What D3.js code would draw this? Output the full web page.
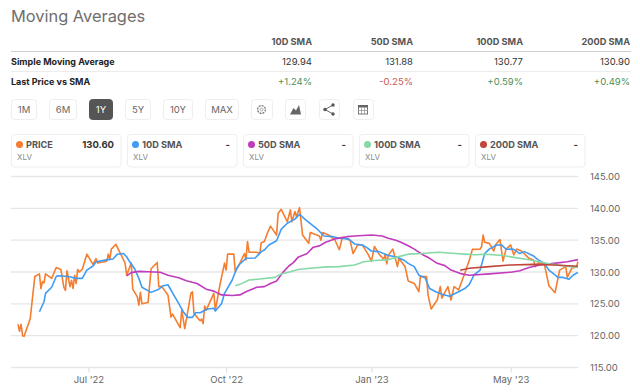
<!DOCTYPE html>
<html>
<head>
<meta charset="utf-8">
<script src="https://cdn.jsdelivr.net/npm/d3@7"></script>
<style>
  html, body { margin: 0; padding: 0; background: #fff; }
  svg { display: block; }
  text { font-family: Inter, "Liberation Sans", sans-serif; }
</style>
</head>
<body>
<div id="chart"></div>
<script>
// table at the top
var smaNames = ["10D SMA", "50D SMA", "100D SMA", "200D SMA"];
var smaValues = ["129.94", "131.88", "130.77", "130.90"];
var smaDiffs = ["+1.24%", "-0.25%", "+0.59%", "+0.49%"];

// range buttons and legend cards
var rangeLabels = ["1M", "6M", "1Y", "5Y", "10Y", "MAX"];
var legendNames = ["PRICE", "10D SMA", "50D SMA", "100D SMA", "200D SMA"];
var legendValues = ["130.60", "-", "-", "-", "-"];
var legendColors = ["#f47d30", "#3f9bf4", "#c13bbd", "#86d8a6", "#c0473a"];

// axis ticks
var yTicks = [115, 120, 125, 130, 135, 140, 145];
var xTickDays = [46, 136, 231, 322];
var xTickLabels = ["Jul '22", "Oct '22", "Jan '23", "May '23"];

// series, day offset from the start of the 1Y window + value
var priceDays = [0,1,2,3,4,8,11,14,15,16,17,18,22,25,28,30,31,32,34,35,36,37,38,39,40,42,45,49,51,52,58,59,60,61,64,70,71,74,75,78,79,80,81,85,87,91,92,94,98,100,101,106,107,109,113,114,115,119,120,121,122,123,128,129,132,135,136,137,141,142,145,148,149,150,151,156,158,159,161,163,165,169,170,172,176,178,179,181,182,184,186,190,191,197,198,199,203,207,210,212,217,219,222,225,229,231,233,236,239,240,241,242,245,248,249,253,255,259,262,263,267,268,270,274,276,277,281,283,285,288,290,292,295,297,302,303,304,305,308,311,312,315,317,319,322,324,326,329,334,337,338,340,344,347,351,354,358,359,362,365,366];
var priceValues = [121.8,120.7,121.8,120.0,119.9,122.7,129.3,129.7,127.4,128.5,128.3,129.7,129.0,130.7,130.4,127.6,127.1,130.2,127.7,128.7,127.4,129.5,128.2,130.4,130.0,130.4,132.8,131.2,132.1,131.4,131.7,132.8,132.0,133.6,134.35,131.4,129.5,131.4,127.3,126.1,124.8,126.8,125.0,125.2,130.5,131.5,127.7,127.7,126.4,122.9,123.4,121.25,124.0,121.1,126.65,126.9,123.5,122.35,122.6,121.9,124.65,124.0,126.65,124.0,128.0,131.4,130.3,132.8,132.8,130.05,131.4,132.9,131.9,134.8,133.1,133.1,132.9,134.6,134.8,136.1,137.2,135.8,139.2,139.85,137.9,139.75,137.9,139.5,138.7,140.1,135.8,134.5,136.2,135.66,135.0,136.2,135.8,135.1,133.5,135.45,135.0,132.9,134.25,134.25,132.7,131.7,134.0,132.8,132.0,132.8,131.26,132.6,133.6,130.84,132.15,130.84,128.6,128.2,126.9,129.3,129.3,126.4,124.2,125.6,127.7,125.9,127.7,125.6,127.7,127.2,128.5,129.8,131.9,133.56,133.6,134.0,135.8,134.67,134.5,133.3,134.25,135.1,131.7,133.6,134.25,132.7,133.6,133.3,132.15,131.9,130.84,131.47,131.2,127.85,126.75,130.3,130.84,129.16,130.6,130.84,131.6];

var sma10Days = [14,17,18,22,25,26,33,38,42,45,49,51,58,62,65,69,71,73,76,79,81,87,92,95,98,103,106,108,111,114,116,119,124,128,129,133,135,140,143,145,149,155,159,161,164,169,172,176,181,184,188,195,200,206,210,216,220,225,228,231,236,242,247,252,255,259,262,266,269,273,277,282,288,292,295,298,302,305,308,313,316,319,324,328,331,337,340,344,347,353,356,360,363,366];
var sma10Values = [123.76,125.33,126.65,127.6,129.3,129.4,129.3,129.0,129.0,130.3,130.94,131.6,131.9,132.04,132.8,132.9,132.4,131.6,130.6,129.0,127.6,126.8,127.3,127.85,128.0,125.9,124.65,123.76,122.87,122.87,123.6,123.6,124.2,124.3,123.87,125.0,126.65,128.74,130.6,131.26,132.15,132.2,133.2,133.46,134.25,134.9,136.7,137.65,138.3,139.07,138.18,136.87,135.66,135.55,135.3,135.2,134.4,134.25,133.83,133.3,133.2,132.6,132.4,131.9,131.36,130.84,129.5,129.1,127.4,126.9,126.5,126.2,126.9,127.4,128.06,129.53,130.3,132.9,133.6,134.25,134.25,133.6,133.56,132.9,133.2,132.5,131.9,131.36,130.3,129.16,129.16,128.85,129.53,129.95];

var sma50Days = [71,74,79,85,93,98,105,110,117,123,128,133,140,145,149,156,161,165,169,173,177,180,183,189,193,197,201,207,215,220,231,238,242,247,251,256,259,264,269,274,279,283,290,295,308,323,328,334,341,350,359,366];
var sma50Values = [129.4,129.9,130.1,130.05,129.95,129.5,129.1,128.64,128.2,127.3,127.0,126.4,126.3,126.4,126.9,127.6,127.7,128.2,128.6,129.9,130.94,131.47,132.3,132.9,133.9,134.1,134.67,135.2,135.55,135.66,135.8,135.66,135.3,135.0,134.6,134.0,133.6,132.8,132.15,131.36,131.0,130.3,129.7,129.5,129.7,130.0,130.2,130.7,131.1,131.36,131.6,131.94];

var sma100Days = [142,145,151,158,168,172,178,183,191,202,210,220,226,233,241,247,255,264,275,286,292,299,306,317,324,332,339,348,356,366];
var sma100Values = [127.85,128.06,128.74,128.9,129.16,129.7,130.05,130.4,130.6,130.8,130.84,131.1,131.6,131.8,131.9,132.3,132.8,132.9,133.1,132.9,132.8,132.7,132.8,132.6,132.3,132.0,131.7,131.26,131.0,130.73];

var sma200Days = [289,295,308,322,337,350,366];
var sma200Values = [130.26,130.6,130.84,131.1,131.2,131.1,130.9];

var seriesList = [
  {days: priceDays, values: priceValues, color: legendColors[0]},
  {days: sma10Days, values: sma10Values, color: legendColors[1]},
  {days: sma50Days, values: sma50Values, color: legendColors[2]},
  {days: sma100Days, values: sma100Values, color: legendColors[3]},
  {days: sma200Days, values: sma200Values, color: legendColors[4]}
];

var width = 640, height = 392;
var svg = d3.select("#chart").append("svg").attr("width", width).attr("height", height);

// title
svg.append("text").attr("x", 11).attr("y", 22).text("Moving Averages")
  .style("font-size", "16.4px").style("fill", "#6e6e6e");

// table
var colRight = [312, 413, 523, 630];
svg.append("text").attr("x", 11).attr("y", 65).text("Simple Moving Average")
  .style("font-size", "9px").style("font-weight", 700).style("fill", "#222");
svg.append("text").attr("x", 11).attr("y", 85).text("Last Price vs SMA")
  .style("font-size", "9px").style("font-weight", 700).style("fill", "#222");
svg.append("line").attr("x1", 11).attr("x2", 631).attr("y1", 51.5).attr("y2", 51.5)
  .style("stroke", "#cfcfcf").style("stroke-width", 1);
svg.append("line").attr("x1", 11).attr("x2", 631).attr("y1", 71.5).attr("y2", 71.5)
  .style("stroke", "#ececec").style("stroke-width", 1);
colRight.forEach(function(cx, i) {
  svg.append("text").attr("x", cx).attr("y", 45).attr("text-anchor", "end").text(smaNames[i])
    .style("font-size", "9.2px").style("font-weight", 700).style("fill", "#555");
  svg.append("text").attr("x", cx).attr("y", 65).attr("text-anchor", "end").text(smaValues[i])
    .style("font-size", "9.5px").style("fill", "#333");
  svg.append("text").attr("x", cx).attr("y", 85).attr("text-anchor", "end").text(smaDiffs[i])
    .style("font-size", "9.5px").style("fill", smaDiffs[i][0] === "-" ? "#c8584f" : "#4b8f5c");
});

// range buttons
var btnX = [[11, 36], [49, 76], [89, 112], [125, 150], [163, 192], [205, 238]];
rangeLabels.forEach(function(label, i) {
  var active = label === "1Y";
  svg.append("rect").attr("x", btnX[i][0] + 0.5).attr("y", 99.5)
    .attr("width", btnX[i][1] - btnX[i][0]).attr("height", 20).attr("rx", 3)
    .style("fill", active ? "#555" : "#fff").style("stroke", active ? "#555" : "#eee");
  svg.append("text").attr("x", (btnX[i][0] + btnX[i][1]) / 2 + 0.5).attr("y", 113)
    .attr("text-anchor", "middle").text(label)
    .style("font-size", "9.5px").style("fill", active ? "#fff" : "#666");
});

// icon buttons
[[251, 272], [285, 305], [319, 339], [353, 373]].forEach(function(b) {
  svg.append("rect").attr("x", b[0] + 0.5).attr("y", 99.5).attr("width", b[1] - b[0]).attr("height", 20).attr("rx", 3)
    .style("fill", "#fff").style("stroke", "#eee");
});
svg.append("circle").attr("cx", 261.5).attr("cy", 109.5).attr("r", 3.9)
  .style("fill", "none").style("stroke", "#777").style("stroke-width", 1.3).style("stroke-dasharray", "2 1");
svg.append("circle").attr("cx", 261.5).attr("cy", 109.5).attr("r", 1.5)
  .style("fill", "none").style("stroke", "#888").style("stroke-width", 0.7);
svg.append("path").attr("d", "M290 114.5L293.5 108L296 110.5L299 105L301 114.5Z").style("fill", "#666");
svg.append("path").attr("d", "M333 105L325 109.5L333 114").style("fill", "none").style("stroke", "#666").style("stroke-width", 1);
[[333, 105], [325, 109.5], [333, 114]].forEach(function(p) {
  svg.append("circle").attr("cx", p[0]).attr("cy", p[1]).attr("r", 1.7).style("fill", "#555");
});
svg.append("rect").attr("x", 358.5).attr("y", 105.5).attr("width", 9).attr("height", 8.5)
  .style("fill", "#fff").style("stroke", "#777");
svg.append("rect").attr("x", 358).attr("y", 105).attr("width", 10).attr("height", 2.5).style("fill", "#666");
[361.5, 364.5].forEach(function(gx) {
  svg.append("line").attr("x1", gx).attr("x2", gx).attr("y1", 107).attr("y2", 114).style("stroke", "#999").style("stroke-width", 0.8);
});
svg.append("line").attr("x1", 358).attr("x2", 368).attr("y1", 110.5).attr("y2", 110.5).style("stroke", "#999").style("stroke-width", 0.8);

// legend cards
var cardX = [11, 127, 243, 359, 475];
legendNames.forEach(function(name, i) {
  var g = svg.append("g").attr("transform", "translate(" + cardX[i] + ",0)");
  g.append("rect").attr("x", 0.5).attr("y", 134.5).attr("width", 109.5).attr("height", 32.5).attr("rx", 3)
    .style("fill", "#fff").style("stroke", "#eee");
  g.append("circle").attr("cx", 8.5).attr("cy", 144.5).attr("r", 3.5).style("fill", legendColors[i]);
  g.append("text").attr("x", 15).attr("y", 148).text(name)
    .style("font-size", "9.2px").style("font-weight", 700).style("fill", "#555");
  g.append("text").attr("x", 103).attr("y", 148).attr("text-anchor", "end").text(legendValues[i])
    .style("font-size", "9.5px").style("font-weight", 700).style("fill", "#333");
  g.append("text").attr("x", 6).attr("y", 160).text("XLV")
    .style("font-size", "8px").style("fill", "#888");
});

// chart
var x = d3.scaleLinear().domain([0, 366]).range([18, 578]);
var y = d3.scaleLinear().domain([115, 145]).range([367.5, 176.5]);

svg.append("g").selectAll("line").data(yTicks).enter().append("line")
  .attr("x1", 11).attr("x2", 578)
  .attr("y1", function(d) { return y(d); })
  .attr("y2", function(d) { return y(d); })
  .style("stroke", "#e6e6e6").style("stroke-width", 1.3);

// x axis
var xAxis = svg.append("g").attr("transform", "translate(0,367.5)")
  .call(d3.axisBottom(x).tickValues(xTickDays).tickSize(5).tickFormat(function(d, i) { return xTickLabels[i]; }));
xAxis.select(".domain").remove();
xAxis.selectAll("line").style("stroke", "#ddd");
xAxis.selectAll("text").attr("y", 9).attr("dy", "0.71em").style("font-size", "9.5px").style("fill", "#666");

// y axis
var yAxis = svg.append("g").attr("transform", "translate(590,0)")
  .call(d3.axisRight(y).tickValues(yTicks).tickSize(0).tickPadding(0).tickFormat(d3.format(".2f")));
yAxis.select(".domain").remove();
yAxis.selectAll("text").style("font-size", "9.5px").style("fill", "#666");

var line = d3.line()
  .x(function(d) { return x(d[0]); })
  .y(function(d) { return y(d[1]); });

seriesList.forEach(function(s) {
  svg.append("path")
    .datum(d3.zip(s.days, s.values))
    .attr("d", line)
    .style("fill", "none")
    .style("stroke", s.color)
    .style("stroke-width", 1.6)
    .style("stroke-linejoin", "round");
});
</script>
</body>
</html>
